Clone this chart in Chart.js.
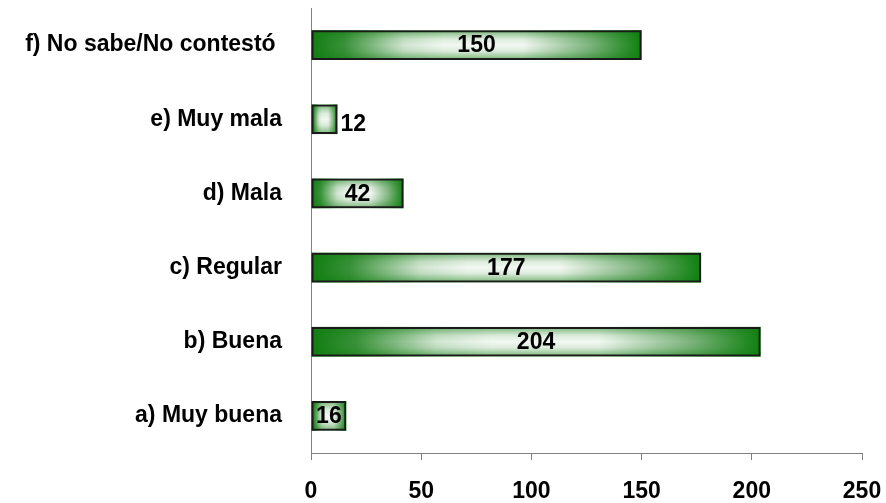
<!DOCTYPE html>
<html>
<head>
<meta charset="utf-8">
<script src="https://cdn.jsdelivr.net/npm/chart.js@4/dist/chart.umd.min.js"></script>
<style>
  html, body { margin: 0; padding: 0; background: #fff; }
  #wrap { width: 886px; height: 503px; }
</style>
</head>
<body>
<div id="wrap"><canvas id="chart" width="886" height="503"></canvas></div>
<script>
// data, bottom to top
const categories = ['a) Muy buena', 'b) Buena', 'c) Regular', 'd) Mala', 'e) Muy mala', 'f) No sabe/No contestó '];
const counts = [16, 204, 177, 42, 12, 150];
const xTicks = [0, 50, 100, 150, 200, 250];

const FONT = '"Liberation Sans", Arial, sans-serif';
const FONT_SIZE = 23;
const GREEN = '#117d11';

// fills each bar with an Excel-like "from center" green/white gradient
const gradientFill = {
  id: 'gradientFill',
  beforeDatasetsDraw(chart) {
    const ctx = chart.ctx;
    chart.getDatasetMeta(0).data.forEach((bar) => {
      const p = bar.getProps(['x', 'y', 'base', 'height'], true);
      const left = Math.min(p.base, p.x);
      const right = Math.max(p.base, p.x);
      const top = p.y - p.height / 2;
      const w = right - left;
      const h = p.height;

      const hg = ctx.createLinearGradient(left, 0, right, 0);
      hg.addColorStop(0, GREEN);
      hg.addColorStop(0.1, '#3a923a');
      hg.addColorStop(0.28, '#d2e5d2');
      hg.addColorStop(0.4, '#f3f8f3');
      hg.addColorStop(0.64, '#f3f8f3');
      hg.addColorStop(0.84, '#80b580');
      hg.addColorStop(1, '#0e800e');
      ctx.save();
      ctx.fillStyle = hg;
      ctx.fillRect(left, top, w, h);

      const vg = ctx.createLinearGradient(0, top, 0, top + h);
      vg.addColorStop(0, 'rgba(17,125,17,0.55)');
      vg.addColorStop(0.3, 'rgba(17,125,17,0.1)');
      vg.addColorStop(0.5, 'rgba(17,125,17,0)');
      vg.addColorStop(0.7, 'rgba(17,125,17,0.1)');
      vg.addColorStop(1, 'rgba(17,125,17,0.55)');
      ctx.fillStyle = vg;
      ctx.fillRect(left, top, w, h);
      ctx.restore();
    });
  }
};

// value labels, centred in the bar, or just past its end when it does not fit
const valueLabels = {
  id: 'valueLabels',
  afterDatasetsDraw(chart) {
    const ctx = chart.ctx;
    ctx.save();
    ctx.font = 'bold ' + FONT_SIZE + 'px ' + FONT;
    ctx.fillStyle = '#000';
    ctx.textBaseline = 'middle';
    chart.getDatasetMeta(0).data.forEach((bar, i) => {
      const p = bar.getProps(['x', 'y', 'base'], true);
      const txt = String(counts[i]);
      const tw = ctx.measureText(txt).width;
      const bw = Math.abs(p.x - p.base);
      if (tw + 6 > bw) {
        ctx.textAlign = 'left';
        ctx.fillText(txt, p.x + 3, p.y + 5);
      } else {
        ctx.textAlign = 'center';
        ctx.fillText(txt, (p.x + p.base) / 2, p.y + 1);
      }
    });
    ctx.restore();
  }
};

new Chart(document.getElementById('chart'), {
  type: 'bar',
  data: {
    labels: categories,
    datasets: [{
      data: counts,
      backgroundColor: 'rgba(0,0,0,0)',
      borderColor: '#1a1a1a',
      borderWidth: 2,
      borderSkipped: false,
      barPercentage: 0.4,
      categoryPercentage: 1.0
    }]
  },
  options: {
    indexAxis: 'y',
    responsive: false,
    animation: false,
    layout: { padding: { top: 8, right: 24, left: 0, bottom: 0 } },
    plugins: {
      legend: { display: false },
      tooltip: { enabled: false }
    },
    scales: {
      x: {
        min: 0,
        max: 250,
        afterBuildTicks: (scale) => { scale.ticks = xTicks.map((v) => ({ value: v })); },
        afterFit: (scale) => {
          scale.height = 50;
          scale.paddingLeft = 0;
          scale.paddingRight = 0;
        },
        grid: { drawOnChartArea: false, drawTicks: true, tickLength: 7, color: '#808080' },
        border: { display: true, color: '#808080', width: 1 },
        ticks: { color: '#000', padding: 18, font: { family: FONT, size: FONT_SIZE, weight: 'bold' } }
      },
      y: {
        reverse: true,
        afterFit: (scale) => {
          scale.width = 311;
          scale.paddingTop = 0;
          scale.paddingBottom = 0;
        },
        grid: { display: false },
        border: { display: true, color: '#808080', width: 1 },
        ticks: { color: '#000', padding: 21, font: { family: FONT, size: FONT_SIZE, weight: 'bold' } }
      }
    }
  },
  plugins: [gradientFill, valueLabels]
});
</script>
</body>
</html>
